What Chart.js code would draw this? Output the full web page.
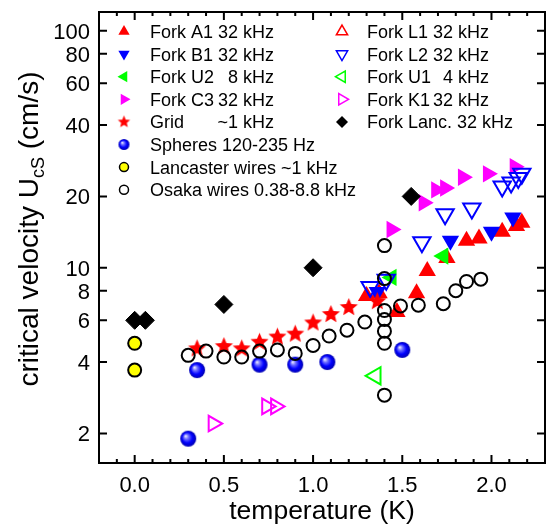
<!DOCTYPE html>
<html>
<head>
<meta charset="utf-8">
<script src="https://cdn.jsdelivr.net/npm/chart.js"></script>
<style>
  html, body { margin: 0; padding: 0; background: #fff; }
  #wrap { width: 557px; height: 531px; }
</style>
</head>
<body>
<div id="wrap"><canvas id="chart" width="557" height="531"></canvas></div>
<script>
// temperature (K), critical velocity (cm/s)
const forkA1 = [[1.30, 7.6], [1.37, 7.8], [1.47, 6.5], [1.58, 7.8], [1.64, 9.7], [1.75, 11.0], [1.86, 13.0], [1.93, 13.3], [2.06, 14.2], [2.14, 15.0], [2.17, 15.5]];
const forkB1 = [[1.36, 7.9], [1.77, 13.0], [2.00, 14.2], [2.12, 16.3]];
const forkU2 = [[1.44, 9.1], [1.73, 11.2]];
const forkC3 = [[1.44, 14.5], [1.62, 18.8], [1.69, 21.3], [1.74, 21.7], [1.84, 24.1], [1.98, 24.9], [2.13, 26.7]];
const grid = [[0.35, 4.55], [0.50, 4.65], [0.60, 4.55], [0.70, 4.85], [0.80, 5.1], [0.90, 5.25], [1.00, 5.85], [1.10, 6.35], [1.20, 6.8], [1.36, 7.2]];
const spheres = [[0.30, 1.9], [0.35, 3.7], [0.70, 3.9], [0.90, 3.9], [1.08, 4.0], [1.50, 4.5]];
const lancWires = [[0.0, 4.8], [0.0, 3.7]];
const osakaWires = [[0.30, 4.27], [0.40, 4.45], [0.50, 4.2], [0.60, 4.2], [0.70, 4.45], [0.80, 4.5], [0.90, 4.35], [1.00, 4.7],
  [1.09, 5.15], [1.19, 5.45], [1.29, 5.9], [1.40, 12.4], [1.40, 9.0], [1.40, 6.6], [1.40, 6.05], [1.40, 5.4], [1.40, 4.8], [1.40, 2.9],
  [1.49, 6.9], [1.59, 6.95], [1.73, 7.05], [1.80, 8.0], [1.86, 8.75], [1.94, 8.95]];
const forkL1 = [];
const forkL2 = [[1.32, 8.3], [1.41, 8.9], [1.61, 12.8], [1.74, 16.8], [1.89, 17.8], [2.06, 22.0], [2.11, 22.9], [2.15, 23.9], [2.17, 24.9]];
const forkU1 = [[1.35, 3.5]];
const forkK1 = [[0.44, 2.2], [0.74, 2.6], [0.79, 2.6]];
const forkLanc = [[0.0, 6.0], [0.06, 6.0], [0.50, 7.0], [1.00, 10.0], [1.55, 20.0]];

const tempTicks = [0.0, 0.5, 1.0, 1.5, 2.0];
const velTicks = [2, 4, 6, 8, 10, 20, 40, 60, 80, 100];

const FONT = '"Liberation Sans", Arial, sans-serif';
const RED = '#ff0000', BLUE = '#0000ff', GREEN = '#00ff00', MAG = '#ff00ff';

function starImg(R) {
  const s = Math.ceil(2 * R + 2);
  const c = document.createElement('canvas');
  c.width = c.height = s;
  const g = c.getContext('2d');
  g.fillStyle = RED;
  g.beginPath();
  for (let i = 0; i < 10; i++) {
    const r = i % 2 ? R * 0.45 : R;
    const a = -Math.PI / 2 + i * Math.PI / 5;
    g.lineTo(s / 2 + r * Math.cos(a), s / 2 + r * Math.sin(a));
  }
  g.closePath();
  g.fill();
  return c;
}

function ballImg(R) {
  const s = Math.ceil(2 * R + 2);
  const c = document.createElement('canvas');
  c.width = c.height = s;
  const g = c.getContext('2d');
  const m = s / 2;
  const gr = g.createRadialGradient(m - R * 0.35, m - R * 0.35, 0, m, m, R);
  gr.addColorStop(0, '#ffffff');
  gr.addColorStop(0.3, '#6f6fff');
  gr.addColorStop(0.65, '#0000ff');
  gr.addColorStop(1, '#0000b0');
  g.fillStyle = gr;
  g.beginPath();
  g.arc(m, m, R, 0, Math.PI * 2);
  g.fill();
  return c;
}

const star = starImg(9.5), starSmall = starImg(6.5);
const ball = ballImg(8), ballSmall = ballImg(5.5);

const pts = arr => arr.map(p => ({ x: p[0], y: p[1] }));

function filledTri(data, color, rot, order) {
  return { data: pts(data), pointStyle: 'triangle', rotation: rot, pointRadius: 10,
    backgroundColor: color, borderColor: color, borderWidth: 0, order: order };
}
function openTri(data, color, rot, r, order) {
  return { data: pts(data), pointStyle: 'triangle', rotation: rot, pointRadius: r,
    backgroundColor: 'rgba(0,0,0,0)', borderColor: color, borderWidth: 2, order: order };
}

const datasets = [
  filledTri(forkA1, RED, 0, 10),
  filledTri(forkB1, BLUE, 180, 8),
  filledTri(forkU2, GREEN, 270, 7),
  filledTri(forkC3, MAG, 90, 9),
  { data: pts(grid), pointStyle: star, order: 5 },
  { data: pts(spheres), pointStyle: ball, order: 4 },
  { data: pts(lancWires), pointStyle: 'circle', pointRadius: 6.5, backgroundColor: '#ffff00', borderColor: '#000', borderWidth: 2, order: 3 },
  { data: pts(osakaWires), pointStyle: 'circle', pointRadius: 6.5, backgroundColor: 'rgba(0,0,0,0)', borderColor: '#000', borderWidth: 2, order: 2 },
  openTri(forkL1, RED, 0, 10, 6),
  openTri(forkL2, BLUE, 180, 10, 6),
  openTri(forkU1, GREEN, 270, 10, 6),
  openTri(forkK1, MAG, 90, 9, 6),
  { data: pts(forkLanc), pointStyle: 'rectRot', pointRadius: 9, backgroundColor: '#000', borderColor: '#000', borderWidth: 1, order: 1 }
];

// legend entries: [label, frequency part, marker]
const legendLeft = [
  ['Fork A1', '32 kHz', { k: 'tri', rot: 0, fill: RED }],
  ['Fork B1', '32 kHz', { k: 'tri', rot: 180, fill: BLUE }],
  ['Fork U2', '8 kHz', { k: 'tri', rot: 270, fill: GREEN }],
  ['Fork C3', '32 kHz', { k: 'tri', rot: 90, fill: MAG }],
  ['Grid', '~1 kHz', { k: 'img', img: starSmall }],
  ['Spheres 120-235 Hz', '', { k: 'img', img: ballSmall }],
  ['Lancaster wires ~1 kHz', '', { k: 'circle', fill: '#ffff00', stroke: '#000' }],
  ['Osaka wires 0.38-8.8 kHz', '', { k: 'circle', fill: null, stroke: '#000' }]
];
const legendRight = [
  ['Fork L1', '32 kHz', { k: 'tri', rot: 0, stroke: RED }],
  ['Fork L2', '32 kHz', { k: 'tri', rot: 180, stroke: BLUE }],
  ['Fork U1', '4 kHz', { k: 'tri', rot: 270, stroke: GREEN }],
  ['Fork K1', '32 kHz', { k: 'tri', rot: 90, stroke: MAG }],
  ['Fork Lanc. 32 kHz', '', { k: 'diamond', fill: '#000' }]
];

function drawMarker(ctx, m, x, y) {
  ctx.save();
  ctx.lineWidth = 1.5;
  ctx.beginPath();
  if (m.k === 'img') {
    ctx.drawImage(m.img, x - m.img.width / 2, y - m.img.height / 2);
    ctx.restore();
    return;
  }
  if (m.k === 'tri') {
    const r = 6.5;
    let a = m.rot * Math.PI / 180;
    for (let i = 0; i < 3; i++) {
      ctx.lineTo(x + Math.sin(a) * r, y - Math.cos(a) * r);
      a += Math.PI * 2 / 3;
    }
    ctx.closePath();
  } else if (m.k === 'circle') {
    ctx.arc(x, y, 4.5, 0, Math.PI * 2);
  } else if (m.k === 'diamond') {
    const r = 6;
    ctx.moveTo(x, y - r); ctx.lineTo(x + r, y); ctx.lineTo(x, y + r); ctx.lineTo(x - r, y);
    ctx.closePath();
  }
  if (m.fill) { ctx.fillStyle = m.fill; ctx.fill(); }
  if (m.stroke) { ctx.strokeStyle = m.stroke; ctx.stroke(); }
  ctx.restore();
}

function text(ctx, s, x, y, size, align) {
  ctx.font = size + 'px ' + FONT;
  ctx.textAlign = align;
  ctx.textBaseline = 'alphabetic';
  ctx.fillStyle = '#000';
  ctx.fillText(s, x, y);
}

const decor = {
  id: 'decor',
  afterDatasetsDraw(chart) {
    const ctx = chart.ctx;
    const a = chart.chartArea;
    const xs = chart.scales.x, ys = chart.scales.y;
    ctx.save();
    ctx.strokeStyle = '#000';
    ctx.lineWidth = 2;
    ctx.strokeRect(a.left, a.top, a.right - a.left, a.bottom - a.top);

    // inward ticks
    ctx.beginPath();
    for (let i = -1; i <= 22; i++) {
      const v = i / 10;
      const px = xs.getPixelForValue(v);
      const len = i % 5 === 0 ? 8 : 4;
      ctx.moveTo(px, a.bottom); ctx.lineTo(px, a.bottom - len);
      ctx.moveTo(px, a.top); ctx.lineTo(px, a.top + len);
    }
    velTicks.forEach(v => {
      const py = ys.getPixelForValue(v);
      ctx.moveTo(a.left, py); ctx.lineTo(a.left + 8, py);
      ctx.moveTo(a.right, py); ctx.lineTo(a.right - 8, py);
    });
    ctx.stroke();

    // tick labels
    tempTicks.forEach(v => text(ctx, v.toFixed(1), xs.getPixelForValue(v), a.bottom + 29, 22, 'center'));
    velTicks.forEach(v => text(ctx, String(v), a.left - 9, ys.getPixelForValue(v) + 8, 22, 'right'));

    // axis titles
    text(ctx, 'temperature (K)', (a.left + a.right) / 2, 519, 26.5, 'center');
    ctx.save();
    ctx.translate(38, 229);
    ctx.rotate(-Math.PI / 2);
    const s1 = 'critical velocity U', sub = 'cS', s2 = ' (cm/s)';
    ctx.font = '28px ' + FONT;
    const w1 = ctx.measureText(s1).width, w2 = ctx.measureText(s2).width;
    ctx.font = '18px ' + FONT;
    const ws = ctx.measureText(sub).width;
    let x0 = -(w1 + ws + w2) / 2;
    text(ctx, s1, x0, 0, 28, 'left');
    text(ctx, sub, x0 + w1, 6, 18, 'left');
    text(ctx, s2, x0 + w1 + ws, 0, 28, 'left');
    ctx.restore();

    // legend
    const rowY = i => 31.5 + i * 22.6;
    const fs = 18;
    ctx.font = fs + 'px ' + FONT;
    const endL = 150 + ctx.measureText('Fork A1 32 kHz').width;
    const endR = 367 + ctx.measureText('Fork L1 32 kHz').width;
    legendLeft.forEach((e, i) => {
      drawMarker(ctx, e[2], 124, rowY(i));
      text(ctx, e[0], 150, rowY(i) + 6.5, fs, 'left');
      if (e[1]) text(ctx, e[1], endL, rowY(i) + 6.5, fs, 'right');
    });
    legendRight.forEach((e, i) => {
      drawMarker(ctx, e[2], 342, rowY(i));
      text(ctx, e[0], 367, rowY(i) + 6.5, fs, 'left');
      if (e[1]) text(ctx, e[1], endR, rowY(i) + 6.5, fs, 'right');
    });
    ctx.restore();
  }
};

new Chart(document.getElementById('chart'), {
  type: 'scatter',
  data: { datasets: datasets },
  options: {
    responsive: false,
    animation: false,
    devicePixelRatio: 1,
    layout: { padding: { top: 6, right: 4, left: 0, bottom: 0 } },
    plugins: { legend: { display: false }, tooltip: { enabled: false } },
    scales: {
      x: {
        type: 'linear', min: -0.2, max: 2.3,
        grid: { display: false }, border: { display: false },
        ticks: { display: false },
        afterFit: s => { s.height = 68; }
      },
      y: {
        type: 'logarithmic', min: 1.5, max: 120,
        grid: { display: false }, border: { display: false },
        ticks: { display: false },
        afterFit: s => { s.width = 99; }
      }
    }
  },
  plugins: [decor]
});
</script>
</body>
</html>
